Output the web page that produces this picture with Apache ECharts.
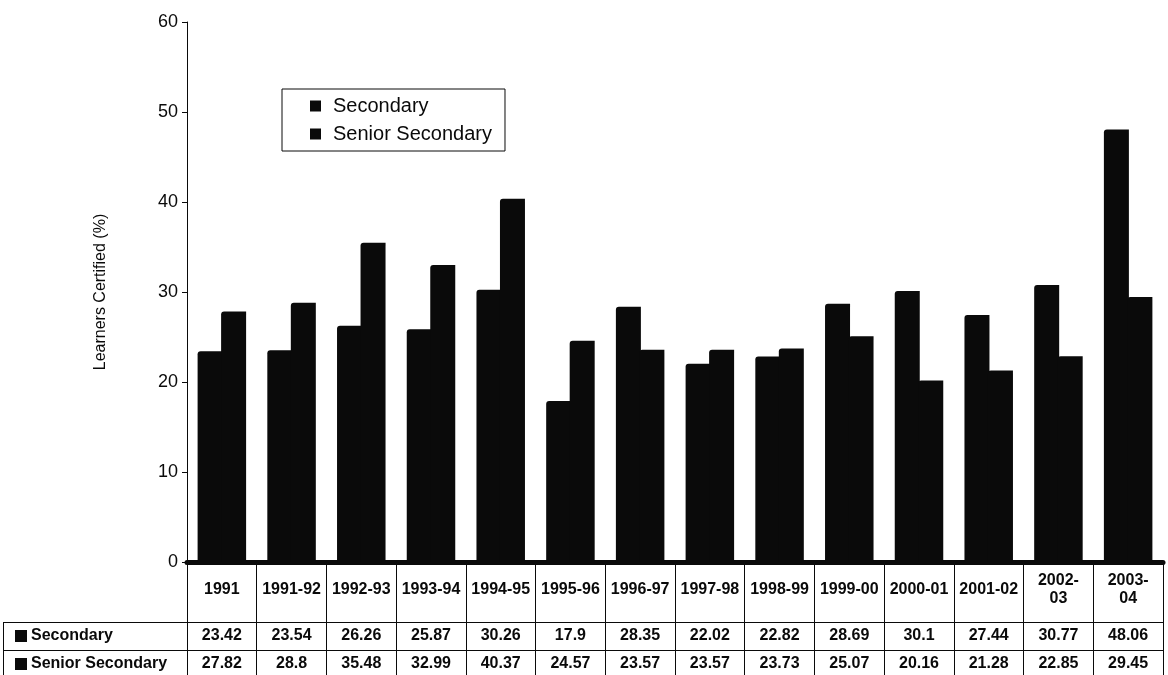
<!DOCTYPE html>
<html>
<head>
<meta charset="utf-8">
<title>Learners Certified</title>
<script src="https://cdn.jsdelivr.net/npm/echarts@6/dist/echarts.min.js"></script>
<style>
  html, body { margin: 0; padding: 0; background: #ffffff; }
  #chart { width: 1168px; height: 675px; }
</style>
</head>
<body>
<div id="chart"></div>
<script>
// Years of the examination results
const categories = ['1991', '1991-92', '1992-93', '1993-94', '1994-95', '1995-96', '1996-97',
  '1997-98', '1998-99', '1999-00', '2000-01', '2001-02', '2002-03', '2003-04'];
// Text shown in the year row of the data table
const yearLabels = ['1991', '1991-92', '1992-93', '1993-94', '1994-95', '1995-96', '1996-97',
  '1997-98', '1998-99', '1999-00', '2000-01', '2001-02', '2002-\n03', '2003-\n04'];
// Percentage of learners certified
const secondary = [23.42, 23.54, 26.26, 25.87, 30.26, 17.9, 28.35, 22.02, 22.82, 28.69, 30.1, 27.44, 30.77, 48.06];
const seniorSecondary = [27.82, 28.8, 35.48, 32.99, 40.37, 24.57, 23.57, 23.57, 23.73, 25.07, 20.16, 21.28, 22.85, 29.45];
const yTicks = [0, 10, 20, 30, 40, 50, 60];

const FONT = '"Liberation Sans", Arial, sans-serif';
const INK = '#0a0a0a';

const chart = echarts.init(document.getElementById('chart'), null, { renderer: 'canvas' });

const tableAxis = (values, offset) => ({
  type: 'category',
  data: categories,
  position: 'bottom',
  offset: offset,
  boundaryGap: true,
  axisLine: { show: true, lineStyle: { color: INK, width: 1 } },
  axisTick: { show: false },
  axisLabel: {
    interval: 0,
    margin: 14,
    verticalAlign: 'middle',
    color: INK,
    fontFamily: FONT,
    fontWeight: 'bold',
    fontSize: 16,
    formatter: (v, i) => String(values[i])
  },
  splitLine: { show: false }
});

const rowLabel = (text, y) => [
  { type: 'rect', shape: { x: 15, y: y - 6, width: 12, height: 12 }, style: { fill: INK } },
  { type: 'text', x: 31, y: y, style: { text: text, fill: INK, font: 'bold 16px ' + FONT, textVerticalAlign: 'middle' } }
];

const barStyle = { color: INK, borderRadius: [3, 0, 0, 0] };

chart.setOption({
  animation: false,
  backgroundColor: '#ffffff',
  grid: { left: 187, right: 5, top: 22, bottom: 113, containLabel: false },
  legend: {
    orient: 'vertical',
    left: 282,
    top: 89,
    padding: [7, 13, 7, 28],
    itemGap: 8,
    itemWidth: 11,
    itemHeight: 11,
    icon: 'rect',
    borderColor: INK,
    borderWidth: 1,
    backgroundColor: '#ffffff',
    textStyle: { color: INK, fontFamily: FONT, fontSize: 20, padding: [0, 0, 0, 7] },
    data: ['Secondary', 'Senior Secondary']
  },
  xAxis: [
    {
      type: 'category',
      data: categories,
      position: 'bottom',
      boundaryGap: true,
      axisLine: { show: true, lineStyle: { color: INK, width: 5 } },
      axisTick: { show: true, interval: 0, length: 113, lineStyle: { color: INK, width: 1 } },
      axisLabel: {
        interval: 0,
        margin: 28,
        verticalAlign: 'middle',
        color: INK,
        fontFamily: FONT,
        fontWeight: 'bold',
        fontSize: 16,
        lineHeight: 18,
        width: 67,
        overflow: 'truncate',
        ellipsis: '',
        formatter: (v, i) => yearLabels[i]
      },
      splitLine: { show: false }
    },
    tableAxis(secondary, 60),
    tableAxis(seniorSecondary, 88)
  ],
  yAxis: {
    type: 'value',
    min: yTicks[0],
    max: yTicks[yTicks.length - 1],
    interval: yTicks[1] - yTicks[0],
    name: 'Learners Certified (%)',
    nameLocation: 'middle',
    nameGap: 78,
    nameTextStyle: { color: INK, fontFamily: FONT, fontSize: 16 },
    axisLine: { show: true, lineStyle: { color: INK, width: 1 } },
    axisTick: { show: true, length: 5, lineStyle: { color: INK } },
    axisLabel: { margin: 9, color: INK, fontFamily: FONT, fontSize: 18 },
    splitLine: { show: false }
  },
  series: [
    {
      name: 'Secondary',
      type: 'bar',
      xAxisIndex: 0,
      data: secondary,
      barWidth: 25,
      barGap: '-6%',
      itemStyle: barStyle
    },
    {
      name: 'Senior Secondary',
      type: 'bar',
      xAxisIndex: 0,
      data: seniorSecondary,
      barWidth: 25,
      barGap: '-6%',
      itemStyle: barStyle
    }
  ],
  graphic: [
    // frame of the row-name column of the data table
    { type: 'line', shape: { x1: 3, y1: 622.5, x2: 187, y2: 622.5 }, style: { stroke: INK, lineWidth: 1 } },
    { type: 'line', shape: { x1: 3, y1: 650.5, x2: 187, y2: 650.5 }, style: { stroke: INK, lineWidth: 1 } },
    { type: 'line', shape: { x1: 3.5, y1: 622, x2: 3.5, y2: 675 }, style: { stroke: INK, lineWidth: 1 } },
    ...rowLabel('Secondary', 636),
    ...rowLabel('Senior Secondary', 664)
  ]
});
</script>
</body>
</html>
